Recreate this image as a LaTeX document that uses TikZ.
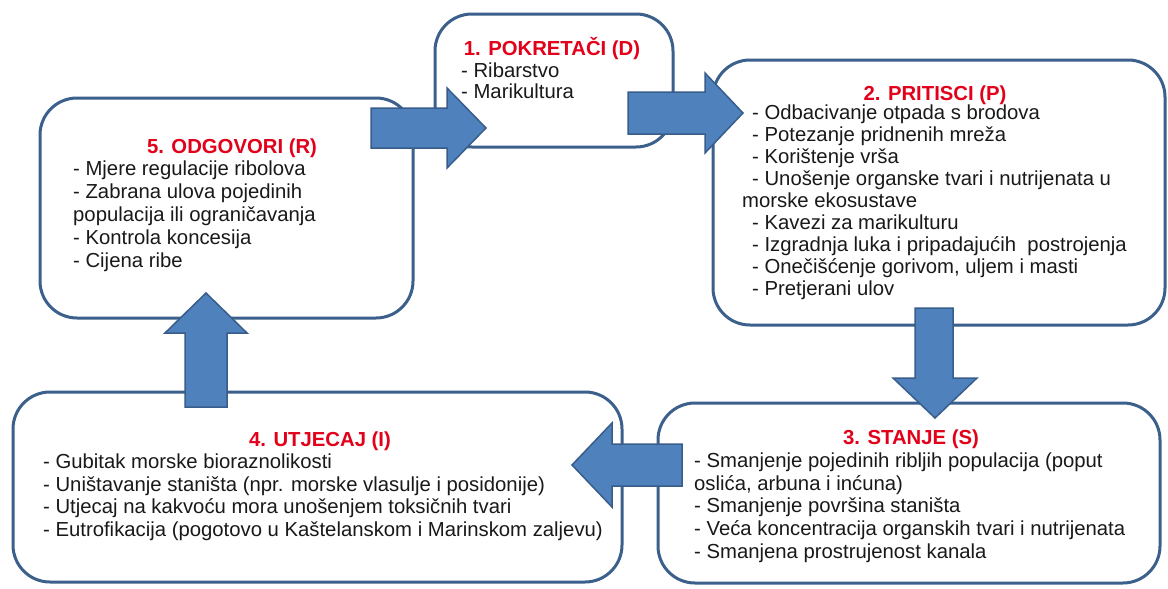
\documentclass[tikz,border=0pt]{standalone}
\usepackage{fontspec}
\setmainfont{Liberation Sans}
\definecolor{boxline}{RGB}{60,96,140}
\definecolor{arrfill}{RGB}{79,129,189}
\definecolor{arrline}{RGB}{56,93,138}
\definecolor{ttl}{RGB}{226,0,26}
\definecolor{txt}{RGB}{25,25,25}
\begin{document}
\begin{tikzpicture}[x=1pt,y=-1pt,
  box/.style={draw=boxline,line width=3pt,rounded corners=37pt,fill=white,inner sep=0pt,outer sep=0pt},
  blockarrow/.style={fill=arrfill,draw=arrline,line width=1.5pt,line join=miter},
  ttlnode/.style={anchor=base,inner sep=0pt,font=\fontsize{20.3}{22.7}\selectfont\bfseries,text=ttl},
  body/.style={anchor=base west,inner sep=0pt,font=\fontsize{20.3}{22.7}\selectfont,text=txt}]
\useasboundingbox[fill=white] (0,0) rectangle (1168,589);

% boxes
\node[box,minimum width=238pt,minimum height=133pt] (b1) at (554,80.5) {};
\node[box,minimum width=452pt,minimum height=265pt] (b2) at (939,192.5) {};
\node[box,minimum width=502pt,minimum height=180pt] (b3) at (909,493) {};
\node[box,minimum width=609pt,minimum height=190pt] (b4) at (317.5,487) {};
\node[box,minimum width=373pt,minimum height=220pt] (b5) at (226.5,208) {};

% block arrows
% 5 -> 1
\draw[blockarrow] (371,108) -- (447,108) -- (447,88) -- (486,128) -- (447,168) -- (447,148) -- (371,148) -- cycle;
% 1 -> 2
\draw[blockarrow] (628,92) -- (705,92) -- (705,73) -- (743,113) -- (705,153) -- (705,134) -- (628,134) -- cycle;
% 2 -> 3
\draw[blockarrow] (915,308) -- (915,378) -- (893,378) -- (935,418) -- (977,378) -- (953,378) -- (953,308) -- cycle;
% 3 -> 4
\draw[blockarrow] (682,444) -- (612,444) -- (612,423) -- (572,465) -- (612,507) -- (612,486) -- (682,486) -- cycle;
% 4 -> 5
\draw[blockarrow] (185,407) -- (185,333) -- (165,333) -- (206,293) -- (247,333) -- (227,333) -- (227,407) -- cycle;

% box 1
\node[ttlnode] (t1) at (552,55) {1. POKRETAČI (D)};
\node[body] (d1) at (461,77) {- Ribarstvo};
\node[body] (d2) at (461,98) {- Marikultura};

% box 2
\node[ttlnode] (t2) at (935,100) {2. PRITISCI (P)};
\node[body] (p1) at (752,119) {- Odbacivanje otpada s brodova};
\node[body] (p2) at (752,141.1) {- Potezanje pridnenih mreža};
\node[body] (p3) at (752,163.2) {- Korištenje vrša};
\node[body] (p4) at (752,185.3) {- Unošenje organske tvari i nutrijenata u};
\node[body] (p5) at (742,207.4) {morske ekosustave};
\node[body] (p6) at (752,229.5) {- Kavezi za marikulturu};
\node[body] (p7) at (752,251.6) {- Izgradnja luka i pripadajućih~ postrojenja};
\node[body] (p8) at (752,273.7) {- Onečišćenje gorivom, uljem i masti};
\node[body] (p9) at (752,295.8) {- Pretjerani ulov};

% box 3
\node[ttlnode] (t3) at (911,444) {3. STANJE (S)};
\node[body] (s1) at (694,467) {- Smanjenje pojedinih ribljih populacija (poput};
\node[body] (s2) at (694,490) {oslića, arbuna i inćuna)};
\node[body] (s3) at (694,512.6) {- Smanjenje površina staništa};
\node[body] (s4) at (694,535.4) {- Veća koncentracija organskih tvari i nutrijenata};
\node[body] (s5) at (694,558.2) {- Smanjena prostrujenost kanala};

% box 4
\node[ttlnode] (t4) at (320,446) {4. UTJECAJ (I)};
\node[body] (i1) at (43,468) {- Gubitak morske bioraznolikosti};
\node[body] (i2) at (43,491) {- Uništavanje staništa (npr. morske vlasulje i posidonije)};
\node[body] (i3) at (43,513.5) {- Utjecaj na kakvoću mora unošenjem toksičnih tvari};
\node[body] (i4) at (43,536) {- Eutrofikacija (pogotovo u Kaštelanskom i Marinskom zaljevu)};

% box 5
\node[ttlnode] (t5) at (232,153) {5. ODGOVORI (R)};
\node[body] (r1) at (73,175) {- Mjere regulacije ribolova};
\node[body] (r2) at (73,198) {- Zabrana ulova pojedinih};
\node[body] (r3) at (73,221) {populacija ili ograničavanja};
\node[body] (r4) at (73,244) {- Kontrola koncesija};
\node[body] (r5) at (73,267) {- Cijena ribe};
\end{tikzpicture}
\end{document}
